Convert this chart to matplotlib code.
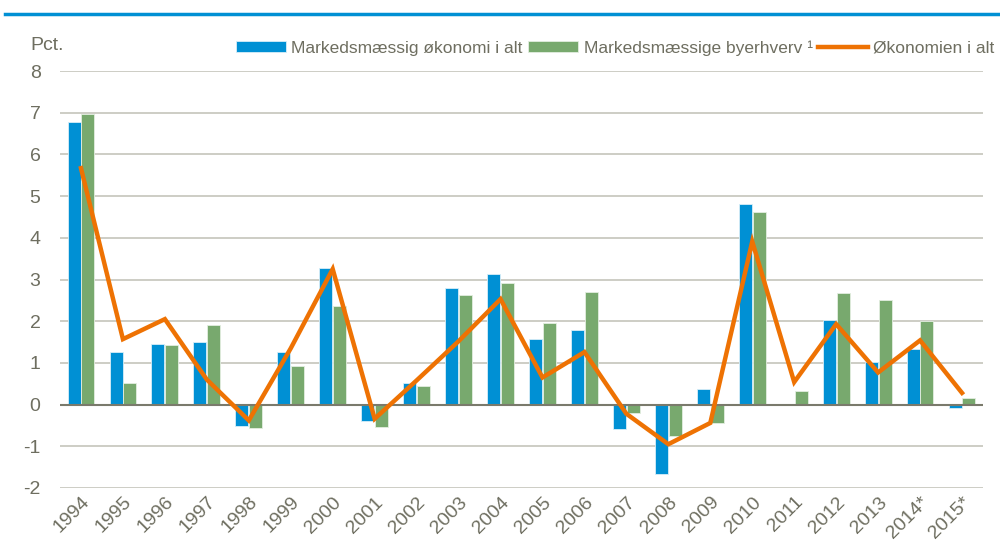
import matplotlib
matplotlib.use("Agg")
import matplotlib.pyplot as plt
import numpy as np

plt.rcParams["font.family"] = ["Liberation Sans Narrow", "Liberation Sans", "DejaVu Sans"]
plt.rcParams["axes.unicode_minus"] = False

years = ["1994", "1995", "1996", "1997", "1998", "1999", "2000", "2001", "2002", "2003", "2004",
         "2005", "2006", "2007", "2008", "2009", "2010", "2011", "2012", "2013", "2014*", "2015*"]
markeds_okonomi = [6.78, 1.25, 1.46, 1.51, -0.52, 1.26, 3.27, -0.39, 0.53, 2.79, 3.13,
                   1.57, 1.78, -0.59, -1.67, 0.37, 4.82, 0.0, 2.03, 1.02, 1.33, -0.08]
markeds_byerhverv = [6.97, 0.53, 1.44, 1.92, -0.56, 0.93, 2.36, -0.54, 0.45, 2.64, 2.92,
                     1.95, 2.70, -0.19, -0.75, -0.44, 4.62, 0.32, 2.68, 2.50, 2.00, 0.15]
okonomien = [5.67, 1.57, 2.05, 0.60, -0.38, 1.35, 3.25, -0.34, 0.58, 1.52, 2.53,
             0.65, 1.26, -0.22, -0.95, -0.44, 3.91, 0.54, 1.93, 0.77, 1.54, 0.28]

blue = "#0090d4"
green = "#78a96e"
orange = "#ee7203"
text_col = "#6e6e60"

fig = plt.figure(figsize=(10, 5.4), dpi=100)
ax = fig.add_axes([0.06, 0.0963, 0.923, 0.7722])

x = np.arange(len(years))
w = 0.31
b1 = ax.bar(x - w / 2 - 0.01, markeds_okonomi, w, color=blue, edgecolor="#d8eef8", linewidth=0.6,
            label="Markedsmæssig økonomi i alt", zorder=2)
b2 = ax.bar(x + w / 2 + 0.01, markeds_byerhverv, w, color=green, edgecolor="#e3eee0", linewidth=0.6,
            label="Markedsmæssige byerhverv \u00b9", zorder=2)
l1, = ax.plot(x, okonomien, color=orange, linewidth=3.2, label="Økonomien i alt", zorder=3,
              solid_joinstyle="miter")

ax.set_xlim(-0.5, len(years) - 0.5)
ax.set_ylim(-2, 8)
ax.set_yticks(range(-2, 9))
ax.yaxis.grid(True, color="#c9c9c0", linewidth=1.3, zorder=0)
ax.axhline(0, color="#7a7a6c", linewidth=1.5, zorder=2.5)
for s in ax.spines.values():
    s.set_visible(False)
ax.tick_params(axis="both", length=0, colors=text_col, labelsize=14)
ax.tick_params(axis="y", pad=14)
ax.set_xticks(x)
ax.set_xticklabels(years, rotation=45, ha="right", rotation_mode="anchor")
ax.tick_params(axis="x", pad=4)

fig.text(0.03, 0.915, "Pct.", color=text_col, fontsize=14, va="center")

leg = ax.legend(handles=[b1, b2, l1], loc="lower right", bbox_to_anchor=(1.02, 1.02), ncol=3,
                frameon=False, fontsize=12.5, handlelength=2.9, handleheight=0.6, handletextpad=0.3,
                columnspacing=0.3, borderaxespad=0)
for t in leg.get_texts():
    t.set_color(text_col)

fig.add_artist(plt.Line2D([0.005, 1.0], [0.974, 0.974], color="#0090d4", linewidth=2.5,
                          transform=fig.transFigure))

fig.savefig("out.png", dpi=100)
